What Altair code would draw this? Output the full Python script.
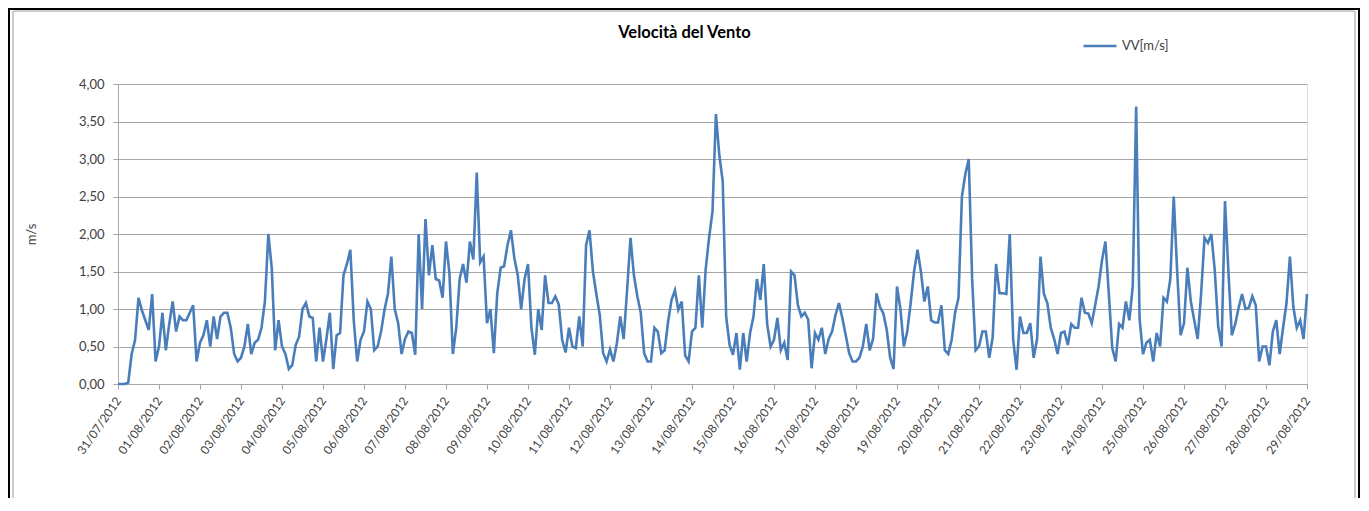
import altair as alt
import pandas as pd

# ---- data: wind speed every 2 hours, one list per day ----
v_31_07 = [0, 0, 0, 0.02, 0.4, 0.59, 1.15, 0.98, 0.85, 0.72, 1.2, 0.3]
v_01_08 = [0.5, 0.95, 0.45, 0.8, 1.1, 0.7, 0.9, 0.85, 0.85, 0.95, 1.05, 0.3]
v_02_08 = [0.55, 0.65, 0.85, 0.5, 0.9, 0.6, 0.9, 0.95, 0.95, 0.75, 0.4, 0.3]
v_03_08 = [0.35, 0.5, 0.8, 0.4, 0.55, 0.59, 0.75, 1.1, 2.0, 1.55, 0.45, 0.85]
v_04_08 = [0.5, 0.4, 0.2, 0.25, 0.52, 0.63, 1.0, 1.08, 0.9, 0.88, 0.3, 0.75]
v_05_08 = [0.3, 0.6, 0.95, 0.2, 0.65, 0.68, 1.45, 1.6, 1.79, 0.85, 0.3, 0.59]
v_06_08 = [0.7, 1.1, 1.0, 0.45, 0.5, 0.7, 0.99, 1.2, 1.7, 1.0, 0.81, 0.4]
v_07_08 = [0.6, 0.7, 0.68, 0.39, 2.0, 1.0, 2.2, 1.45, 1.85, 1.4, 1.38, 1.15]
v_08_08 = [1.9, 1.48, 0.4, 0.75, 1.4, 1.6, 1.35, 1.9, 1.66, 2.82, 1.62, 1.7]
v_09_08 = [0.81, 1.0, 0.41, 1.21, 1.55, 1.57, 1.85, 2.05, 1.68, 1.45, 1.0, 1.4]
v_10_08 = [1.6, 0.75, 0.39, 1.0, 0.72, 1.45, 1.08, 1.08, 1.17, 1.06, 0.59, 0.42]
v_11_08 = [0.75, 0.5, 0.48, 0.9, 0.5, 1.85, 2.05, 1.5, 1.2, 0.92, 0.41, 0.3]
v_12_08 = [0.46, 0.3, 0.54, 0.9, 0.6, 1.25, 1.95, 1.45, 1.17, 0.95, 0.41, 0.3]
v_13_08 = [0.3, 0.75, 0.7, 0.41, 0.45, 0.83, 1.12, 1.25, 0.99, 1.1, 0.38, 0.3]
v_14_08 = [0.7, 0.75, 1.45, 0.75, 1.53, 1.95, 2.3, 3.6, 3.05, 2.7, 0.9, 0.52]
v_15_08 = [0.39, 0.68, 0.19, 0.68, 0.3, 0.68, 0.9, 1.4, 1.12, 1.6, 0.8, 0.5]
v_16_08 = [0.59, 0.88, 0.45, 0.55, 0.32, 1.5, 1.45, 1.05, 0.9, 0.95, 0.86, 0.21]
v_17_08 = [0.68, 0.59, 0.75, 0.4, 0.6, 0.7, 0.92, 1.08, 0.88, 0.65, 0.41, 0.3]
v_18_08 = [0.3, 0.35, 0.5, 0.8, 0.45, 0.6, 1.21, 1.03, 0.94, 0.72, 0.35, 0.2]
v_19_08 = [1.3, 1.0, 0.5, 0.7, 1.08, 1.5, 1.79, 1.5, 1.1, 1.3, 0.85, 0.82]
v_20_08 = [0.82, 1.05, 0.45, 0.4, 0.59, 0.95, 1.15, 2.5, 2.8, 3.0, 1.39, 0.45]
v_21_08 = [0.5, 0.7, 0.7, 0.35, 0.62, 1.6, 1.21, 1.21, 1.2, 2.0, 0.59, 0.19]
v_22_08 = [0.9, 0.68, 0.68, 0.81, 0.35, 0.6, 1.7, 1.2, 1.08, 0.75, 0.6, 0.4]
v_23_08 = [0.68, 0.7, 0.52, 0.8, 0.75, 0.75, 1.15, 0.95, 0.94, 0.81, 1.05, 1.3]
v_24_08 = [1.65, 1.9, 1.2, 0.48, 0.3, 0.8, 0.75, 1.1, 0.85, 1.3, 3.7, 0.87]
v_25_08 = [0.4, 0.55, 0.59, 0.3, 0.68, 0.5, 1.15, 1.1, 1.4, 2.5, 1.5, 0.65]
v_26_08 = [0.81, 1.55, 1.1, 0.85, 0.6, 1.2, 1.95, 1.88, 2.0, 1.52, 0.77, 0.5]
v_27_08 = [2.44, 1.5, 0.65, 0.8, 1.02, 1.2, 1.0, 1.02, 1.17, 1.05, 0.3, 0.5]
v_28_08 = [0.5, 0.25, 0.7, 0.85, 0.4, 0.75, 1.08, 1.7, 1.03, 0.75, 0.85, 0.6]
v_29_08 = [1.2]

day_labels = [
    "31/07/2012", "01/08/2012", "02/08/2012", "03/08/2012", "04/08/2012",
    "05/08/2012", "06/08/2012", "07/08/2012", "08/08/2012", "09/08/2012",
    "10/08/2012", "11/08/2012", "12/08/2012", "13/08/2012", "14/08/2012",
    "15/08/2012", "16/08/2012", "17/08/2012", "18/08/2012", "19/08/2012",
    "20/08/2012", "21/08/2012", "22/08/2012", "23/08/2012", "24/08/2012",
    "25/08/2012", "26/08/2012", "27/08/2012", "28/08/2012", "29/08/2012",
]
y_ticks = [0, 0.5, 1.0, 1.5, 2.0, 2.5, 3.0, 3.5, 4.0]
series_name = "VV[m/s]"
title_text = "Velocità del Vento"
y_title = "m/s"

values = (v_31_07 + v_01_08 + v_02_08 + v_03_08 + v_04_08 + v_05_08 + v_06_08
          + v_07_08 + v_08_08 + v_09_08 + v_10_08 + v_11_08 + v_12_08 + v_13_08
          + v_14_08 + v_15_08 + v_16_08 + v_17_08 + v_18_08 + v_19_08 + v_20_08
          + v_21_08 + v_22_08 + v_23_08 + v_24_08 + v_25_08 + v_26_08 + v_27_08
          + v_28_08 + v_29_08)

times = pd.date_range("2012-07-31", periods=len(values), freq="2h")
df = pd.DataFrame({
    "t": times.strftime("%Y-%m-%dT%H:%M:%S"),
    "v": values,
    "serie": series_name,
})

day_dates = pd.to_datetime(day_labels, format="%d/%m/%Y")
tick_vals = [alt.DateTime(year=int(d.year), month=int(d.month), date=int(d.day)) for d in day_dates]

FONT = "Lato"
TXT = "#404040"
GRID = "#a6a6a6"

line = alt.Chart(df).mark_line(strokeWidth=2.6, color="#4a7ebb").encode(
    x=alt.X(
        "t:T",
        scale=alt.Scale(domain=[tick_vals[0], tick_vals[-1]], nice=False),
        axis=alt.Axis(
            values=tick_vals, format="%d/%m/%Y", labelAngle=-55,
            labelAlign="right", labelBaseline="middle", labelPadding=9,
            labelFont=FONT, labelFontSize=12, labelColor=TXT,
            grid=False, tickSize=5, tickColor=GRID, domainColor=GRID,
            labelOverlap=False, labelFlush=False, title=None,
        ),
    ),
    y=alt.Y(
        "v:Q",
        scale=alt.Scale(domain=[0, 4], nice=False),
        axis=alt.Axis(
            values=y_ticks,
            labelExpr="replace(format(datum.value, '.2f'), '.', ',')",
            labelFont=FONT, labelFontSize=13, labelColor=TXT, labelPadding=9,
            grid=True, gridColor=GRID, tickSize=5, tickColor=GRID,
            domainColor=GRID, title=y_title, titleFont=FONT, titleFontSize=13,
            titleFontWeight="normal", titleColor=TXT, titlePadding=40,
        ),
    ),
    color=alt.Color(
        "serie:N",
        scale=alt.Scale(range=["#4a7ebb"]),
        legend=alt.Legend(
            orient="none", legendX=964, legendY=-56, title=None,
            symbolType="stroke", symbolSize=1089, symbolStrokeWidth=2.3,
            labelFont=FONT, labelFontSize=13, labelColor=TXT, labelOffset=4,
            padding=0,
        ),
    ),
)

frame_outer = alt.Chart(alt.Data(values=[{}])).mark_rect(
    filled=False, stroke="black", strokeWidth=2
).encode(
    x=alt.value(-109), x2=alt.value(1241), y=alt.value(-75), y2=alt.value(440)
)
frame_inner = alt.Chart(alt.Data(values=[{}])).mark_rect(
    filled=False, stroke="#9a9a9a", strokeWidth=1
).encode(
    x=alt.value(-105), x2=alt.value(1237), y=alt.value(-73), y2=alt.value(440)
)

chart = alt.layer(frame_outer, frame_inner, line).properties(
    width=1189,
    height=300,
    autosize=alt.AutoSizeParams(type="none"),
    padding={"left": 110, "top": 76, "right": 53, "bottom": 114},
    title=alt.TitleParams(
        title_text, font=FONT, fontSize=16.5, fontWeight="bold", color="black",
        anchor="middle", dx=-28, offset=-33,
    ),
).configure_view(stroke=None).configure(background="white")

chart.save("out.html", embed_options={"renderer": "svg", "actions": False})
